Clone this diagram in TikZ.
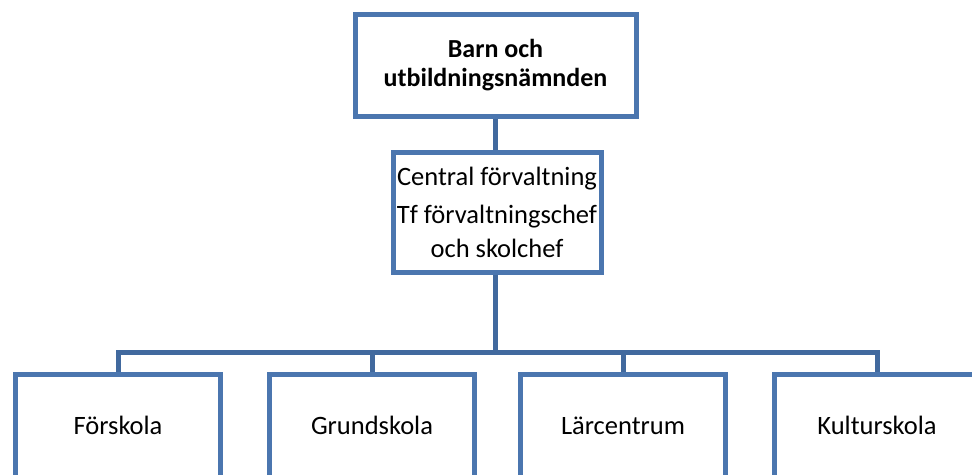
\documentclass[tikz,border=0pt]{standalone}
\usepackage{fontspec}
\setmainfont{Carlito}
\definecolor{boxblue}{HTML}{4B76AF}
\definecolor{lineblue}{HTML}{41699E}
\begin{document}
\begin{tikzpicture}[x=1pt,y=-1pt,
  box/.style={draw=boxblue, line width=5pt, fill=white, inner sep=0pt, align=center,
    font=\fontsize{26.5}{34}\selectfont},
  leaf/.style={box, minimum width=205pt, minimum height=110pt, text height=16pt, text depth=6pt},
  link/.style={draw=lineblue, line width=5pt, line join=miter}]
\useasboundingbox (0,0) rectangle (972,474);
\clip (0,0) rectangle (972,474);
\node[box, minimum width=281pt, minimum height=102pt,
  font=\bfseries\fontsize{26}{29}\selectfont] (top) at (495.5,65) {Barn och\\utbildningsnämnden};
\node[box, minimum width=208pt, minimum height=120pt] (cen) at (497,212)
  {Central förvaltning\\[4pt]Tf förvaltningschef\\och skolchef};
\node[leaf] (f) at (118,429) {Förskola};
\node[leaf] (g) at (372,429) {Grundskola};
\node[leaf] (l) at (623,429) {Lärcentrum};
\node[leaf] (k) at (877,429) {Kulturskola};
\coordinate (bus) at (495,352);
\draw[link] (top.south -| bus) -- (cen.north -| bus);
\draw[link] (cen.south -| bus) -- (bus);
\draw[link] (f.north) -- (f.north |- bus) -- (k.north |- bus) -- (k.north);
\draw[link] (g.north) -- (g.north |- bus);
\draw[link] (l.north) -- (l.north |- bus);
\end{tikzpicture}
\end{document}
